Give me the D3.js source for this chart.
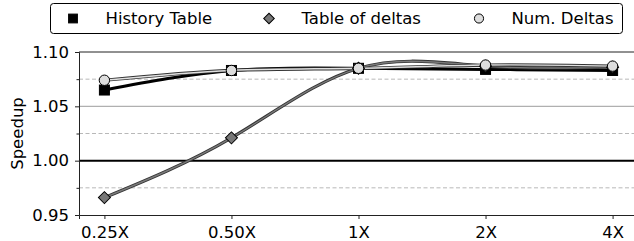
<!DOCTYPE html>
<html>
<head>
<meta charset="utf-8">
<script src="https://cdn.jsdelivr.net/npm/d3@7"></script>
<style>
body{margin:0;background:#fff;}
text{font-family:"DejaVu Sans",sans-serif;}
</style>
</head>
<body>
<div id="chart"></div>
<script>
var width = 634, height = 241;
var margin = {left:79, top:52, right:-4, bottom:26};

var categories = ["0.25X","0.50X","1X","2X","4X"];
var historyTable = [1.065, 1.083, 1.085, 1.084, 1.083];
var tableOfDeltas = [0.966, 1.021, 1.085, 1.087, 1.086];
var numDeltas = [1.074, 1.083, 1.085, 1.088, 1.087];
var yTicks = [0.95, 1.00, 1.05, 1.10];
var minorTicks = [0.975, 1.025, 1.075];

var series = [
	{name:"History Table", values:historyTable, fill:"#000", line:"#000", outline:"#000", marker:"square"},
	{name:"Table of deltas", values:tableOfDeltas, fill:"#777", line:"#7a7a7a", outline:"#333", marker:"diamond"},
	{name:"Num. Deltas", values:numDeltas, fill:"#ddd", line:"#e0e0e0", outline:"#333", marker:"circle"}
];

var svg = d3.select("#chart").append("svg").attr("width",width).attr("height",height);

var x = d3.scaleLinear().domain([-0.2, 4.2]).range([margin.left, width - margin.right]);
var y = d3.scaleLinear().domain([0.95, 1.10]).range([height - margin.bottom, margin.top]);

var plot = svg.append("g");

// grid
plot.selectAll("line.minor").data(minorTicks).enter().append("line")
	.attr("x1",x.range()[0]).attr("x2",x.range()[1])
	.attr("y1",function(d){return y(d);}).attr("y2",function(d){return y(d);})
	.attr("stroke","#b8b8b8").attr("stroke-width",1).attr("stroke-dasharray","4,2.5");
plot.append("line")
	.attr("x1",x.range()[0]).attr("x2",x.range()[1])
	.attr("y1",y(1.05)).attr("y2",y(1.05))
	.attr("stroke","#b0b0b0").attr("stroke-width",1.2);
plot.append("line")
	.attr("x1",x.range()[0]).attr("x2",x.range()[1])
	.attr("y1",y(1.0)).attr("y2",y(1.0))
	.attr("stroke","#000").attr("stroke-width",2);

// top spine
plot.append("line").attr("x1",x.range()[0]).attr("x2",x.range()[1]).attr("y1",y(1.10)).attr("y2",y(1.10)).attr("stroke","#222").attr("stroke-width",1);

svg.append("g").attr("transform","translate("+x.range()[0]+",0)")
	.call(d3.axisLeft(y).tickValues(yTicks).tickFormat(d3.format(".2f")).tickSize(4).tickPadding(6));
svg.append("g").attr("transform","translate("+x.range()[0]+",0)")
	.call(d3.axisLeft(y).tickValues(minorTicks).tickFormat("").tickSize(2.5))
	.select(".domain").remove();
svg.append("g").attr("transform","translate(0,"+y(0.95)+")")
	.call(d3.axisBottom(x).tickValues(d3.range(categories.length)).tickFormat(function(d){return categories[d];}).tickSize(4).tickPadding(7.5));

svg.selectAll(".tick text").attr("font-size",16.5).attr("fill","#000").style("font-family","DejaVu Sans");
svg.selectAll(".domain").attr("stroke","#222");
svg.selectAll(".tick line").attr("stroke","#222");

svg.append("text").attr("transform","translate(22.5,"+y(1.025)+") rotate(-90)")
	.attr("text-anchor","middle").attr("font-size",16.5).text("Speedup");

// lines
var line = d3.line().x(function(d,i){return x(i);}).y(function(d){return y(d);}).curve(d3.curveNatural);
series.forEach(function(s){
	var g = plot.append("g");
	if (s.marker == "square"){
		g.append("path").attr("d",line(s.values)).attr("fill","none").attr("stroke","#000").attr("stroke-width",3);
	} else {
		g.append("path").attr("d",line(s.values)).attr("fill","none").attr("stroke",s.outline).attr("stroke-width",3.2);
		g.append("path").attr("d",line(s.values)).attr("fill","none").attr("stroke",s.line).attr("stroke-width",1.4);
	}
});

function drawMarker(g, type, cx, cy, fill, sz){
	sz = sz || 1;
	if (type == "square"){
		g.append("rect").attr("x",cx-5*sz).attr("y",cy-5*sz).attr("width",10*sz).attr("height",10*sz)
			.attr("fill",fill).attr("stroke","#000").attr("stroke-width",1);
	} else if (type == "diamond"){
		g.append("path").attr("d",d3.symbol().type(d3.symbolSquare).size(72*sz*sz)())
			.attr("transform","translate("+cx+","+cy+") rotate(45)")
			.attr("fill",fill).attr("stroke","#000").attr("stroke-width",1);
	} else {
		g.append("circle").attr("cx",cx).attr("cy",cy).attr("r",5.2*sz)
			.attr("fill",fill).attr("stroke","#000").attr("stroke-width",1);
	}
}

series.forEach(function(s){
	var g = plot.append("g");
	s.values.forEach(function(v,i){ drawMarker(g, s.marker, x(i), y(v), s.fill); });
});

// legend
var leg = svg.append("g");
leg.append("rect").attr("x",50.5).attr("y",3.5).attr("width",572).attr("height",30).attr("rx",3)
	.attr("fill","#fff").attr("stroke","#000").attr("stroke-width",1);
var legX = [73, 269, 479];
series.forEach(function(s,i){
	drawMarker(leg, s.marker, legX[i], 18.5, s.fill, 0.88);
	leg.append("text").attr("x",legX[i]+32.5).attr("y",24).attr("font-size",16.5).text(s.name);
});
</script>
</body>
</html>
